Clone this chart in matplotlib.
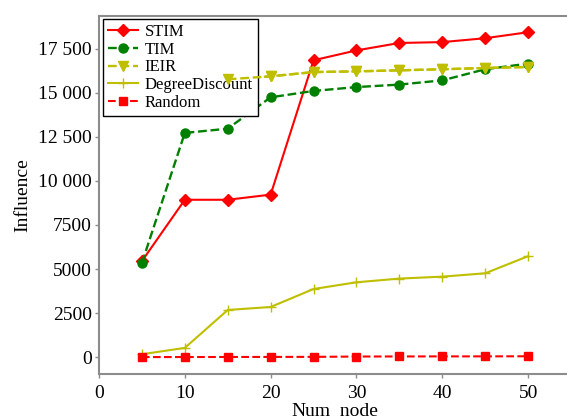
import matplotlib
matplotlib.use("Agg")
import matplotlib.pyplot as plt
from matplotlib.ticker import MultipleLocator, FuncFormatter

plt.rcParams['font.family'] = ['Liberation Serif', 'DejaVu Serif']

# data
num_node = [5, 10, 15, 20, 25, 30, 35, 40, 45, 50]
stim = [5450, 8930, 8930, 9220, 16840, 17400, 17820, 17870, 18090, 18430]
tim = [5350, 12720, 12960, 14740, 15100, 15320, 15460, 15700, 16330, 16650]
ieir = [14500, 15330, 15760, 15930, 16170, 16210, 16270, 16330, 16400, 16460]
degree_discount = [170, 530, 2680, 2850, 3870, 4250, 4460, 4570, 4760, 5730]
random_sel = [10, 12, 15, 18, 22, 40, 45, 48, 50, 55]

red = '#ff0000'
green = '#008000'
olive = '#bfbf00'

fig = plt.figure(figsize=(5.67, 4.17), dpi=100)
ax = fig.add_axes([99 / 567, 43 / 417, 472 / 567, 358 / 417])

ax.plot(num_node, stim, '-', color=red, marker='D', ms=6.5, lw=1.5, label='STIM')
ax.plot(num_node, tim, '--', color=green, marker='o', ms=6.5, lw=1.7, label='TIM')
ax.plot(num_node, ieir, '--', color=olive, marker='v', ms=6.5, lw=1.7, label='IEIR')
ax.plot(num_node, degree_discount, '-', color=olive, marker='+', ms=6.5, lw=1.5,
        label='DegreeDiscount')
ax.plot(num_node, random_sel, '--', color=red, marker='s', ms=6, lw=1.5, label='Random')

ax.set_xlim(0, 55)
ax.set_ylim(-950, 19350)
ax.xaxis.set_major_locator(MultipleLocator(10))
ax.yaxis.set_major_locator(MultipleLocator(2500))


def fmt(v, pos):
    v = int(round(v))
    if abs(v) >= 10000:
        return f"{v:,}".replace(',', ' ')
    return str(v)


ax.yaxis.set_major_formatter(FuncFormatter(fmt))

for side in ['left', 'bottom', 'top']:
    ax.spines[side].set_color('#8c8c8c')
    ax.spines[side].set_linewidth(1.5)
ax.spines['right'].set_visible(False)
ax.tick_params(axis='both', colors='#8c8c8c', labelcolor='black', labelsize=14,
               length=3, width=1)
ax.tick_params(axis='x', pad=5)
ax.tick_params(axis='y', pad=2)

ax.set_xlabel('Num_node', fontsize=14, labelpad=0)
ax.set_ylabel('Influence', fontsize=14, labelpad=5)

leg = ax.legend(loc='upper left', bbox_to_anchor=(0.0085, 0.9916), borderaxespad=0,
                fontsize=12, frameon=True, fancybox=False, framealpha=1,
                edgecolor='black', handlelength=1.8, handletextpad=0.4,
                labelspacing=0.1, borderpad=0.3)
leg.get_frame().set_linewidth(1.0)

# IEIR from 15 onwards shows on top of the legend box in the reference
ax.plot(num_node[2:], ieir[2:], '--', color=olive, marker='v', ms=6.5, lw=1.7, zorder=6)

fig.savefig('out.png', dpi=100)
